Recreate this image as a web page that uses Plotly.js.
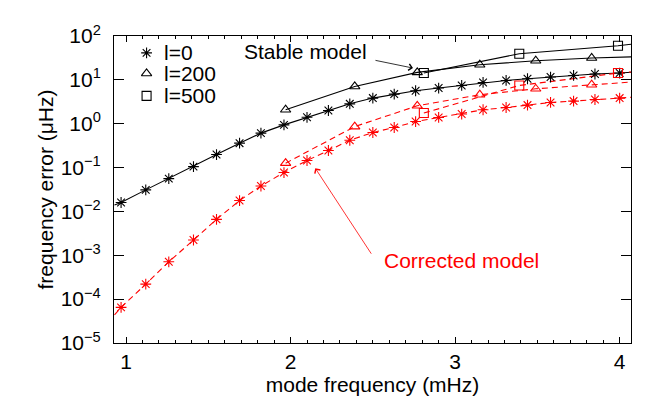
<!DOCTYPE html>
<html>
<head>
<meta charset="utf-8">
<script src="https://cdn.plot.ly/plotly-3.0.1.min.js"></script>
<style>html,body{margin:0;padding:0;background:#fff;}#chart{width:665px;height:416px;}</style>
</head>
<body>
<div id="chart"></div>
<script>
// ---- data (mode frequency in mHz, frequency error in microHz) ----
const freqL0 = [0.97, 1.12, 1.26, 1.41, 1.55, 1.69, 1.82, 1.96, 2.10, 2.23, 2.36, 2.50, 2.63, 2.76, 2.90, 3.04, 3.17, 3.31, 3.44, 3.58, 3.72, 3.85, 4.00];
const errStableL0 = [0.016, 0.031, 0.056, 0.105, 0.198, 0.36, 0.61, 0.94, 1.40, 2.0, 2.84, 3.84, 4.74, 5.64, 6.50, 7.45, 8.72, 9.69, 10.6, 11.6, 12.6, 13.6, 14.3];
const errCorrL0 = [6.5e-5, 2.2e-4, 7.1e-4, 2.23e-3, 6.6e-3, 0.0177, 0.038, 0.077, 0.145, 0.245, 0.42, 0.63, 0.82, 1.12, 1.39, 1.66, 2.08, 2.34, 2.66, 3.05, 3.28, 3.57, 3.84];

const freqL200 = [1.97, 2.39, 2.77, 3.15, 3.49, 3.83];
const errStableL200 = [2.08, 7.07, 14.8, 22.1, 27.3, 31.5];
const errCorrL200 = [0.126, 0.86, 2.56, 4.57, 6.26, 7.73];

const freqL500 = [2.81, 3.39, 3.99];
const errStableL500 = [14.3, 39.4, 60.1];
const errCorrL500 = [1.75, 7.45, 14.3];

// model curves continue to the frame edges
const curveStartFreq = 0.93;
const curveEndFreq = 4.07;
const stableL0Start = 0.014, corrL0Start = 4.4e-5;
const stableEnd = {l0: 14.9, l200: 33.5, l500: 65};
const corrEnd = {l0: 4.0, l200: 8.9, l500: 15.1};

const legendLabels = ['l=0', 'l=200', 'l=500'];
const yTickVals = [1e-5, 1e-4, 1e-3, 1e-2, 1e-1, 1, 10, 100];
const yTickText = ['10<sup>\u22125</sup>', '10<sup>\u22124</sup>', '10<sup>\u22123</sup>', '10<sup>\u22122</sup>', '10<sup>\u22121</sup>', '10<sup>0</sup>', '10<sup>1</sup>', '10<sup>2</sup>'];
const xTickVals = [1, 2, 3, 4];

// ---- styles ----
const FONT = 'Liberation Sans, Arial, Helvetica, sans-serif';
const BLACK = '#000000', RED = '#ff0000';
const symbols = {l0: 'asterisk-open', l200: 'triangle-up-open', l500: 'square-open'};
const msize = {l0: 9, l200: 9, l500: 9};

function curve(x, y, color, dashed) {
  return {x: x, y: y, mode: 'lines', type: 'scatter', showlegend: false, hoverinfo: 'skip',
    line: {color: color, width: 1.1, dash: dashed ? '6px,4px' : 'solid'}};
}
function pts(x, y, color, key) {
  return {x: x, y: y, mode: 'markers', type: 'scatter', showlegend: false,
    marker: {symbol: symbols[key], size: msize[key], color: color, line: {color: color, width: 1.1}}};
}

const traces = [
  curve([curveStartFreq].concat(freqL0, [curveEndFreq]), [stableL0Start].concat(errStableL0, [stableEnd.l0]), BLACK, false),
  curve(freqL200.concat([curveEndFreq]), errStableL200.concat([stableEnd.l200]), BLACK, false),
  curve(freqL500.concat([curveEndFreq]), errStableL500.concat([stableEnd.l500]), BLACK, false),
  curve([curveStartFreq].concat(freqL0, [curveEndFreq]), [corrL0Start].concat(errCorrL0, [corrEnd.l0]), RED, true),
  curve(freqL200.concat([curveEndFreq]), errCorrL200.concat([corrEnd.l200]), RED, true),
  curve(freqL500.concat([curveEndFreq]), errCorrL500.concat([corrEnd.l500]), RED, true),
  pts(freqL0, errStableL0, BLACK, 'l0'),
  pts(freqL200, errStableL200, BLACK, 'l200'),
  pts(freqL500, errStableL500, BLACK, 'l500'),
  pts(freqL0, errCorrL0, RED, 'l0'),
  pts(freqL200, errCorrL200, RED, 'l200'),
  pts(freqL500, errCorrL500, RED, 'l500')
];

// legend key symbols drawn on a hidden overlay (paper-like) axis
const legendX = 0.063;
const legendY = [0.945, 0.878, 0.805];
traces.push({
  x: [legendX, legendX, legendX], y: legendY, xaxis: 'x2', yaxis: 'y2', mode: 'markers', type: 'scatter',
  showlegend: false, hoverinfo: 'skip',
  marker: {symbol: [symbols.l0, symbols.l200, symbols.l500], size: 9, color: BLACK, line: {color: BLACK, width: 1.1}}
});

const annotations = legendLabels.map((t, i) => ({
  xref: 'paper', yref: 'paper', x: 0.092, y: legendY[i], xanchor: 'left', yanchor: 'middle',
  text: t, showarrow: false, font: {family: FONT, size: 21, color: BLACK}
}));

annotations.push(
  {xref: 'x', yref: 'y', x: 2.089, y: 1.648, text: 'Stable model', showarrow: false,
   xanchor: 'center', yanchor: 'middle', font: {family: FONT, size: 21, color: BLACK}},
  {xref: 'x', yref: 'y', x: 2.744, y: 1.269, text: '', showarrow: true, ax: -39, ay: -8,
   arrowhead: 4, arrowsize: 1.6, arrowwidth: 0.8, arrowcolor: BLACK},
  {xref: 'x', yref: 'y', x: 3.039, y: -3.13, text: 'Corrected model', showarrow: false,
   xanchor: 'center', yanchor: 'middle', font: {family: FONT, size: 21, color: RED}},
  {xref: 'x', yref: 'y', x: 2.150, y: -1.014, text: '', showarrow: true, ax: 57, ay: 87,
   arrowhead: 4, arrowsize: 1.6, arrowwidth: 0.8, arrowcolor: RED}
);

const layout = {
  width: 665, height: 416,
  margin: {l: 114, r: 34, t: 36, b: 73, pad: 0},
  paper_bgcolor: '#ffffff', plot_bgcolor: '#ffffff',
  font: {family: FONT, size: 21, color: BLACK},
  showlegend: false,
  xaxis: {
    range: [0.927, 4.069], tickvals: xTickVals, ticktext: xTickVals.map(String),
    ticks: 'inside', ticklen: 6, tickwidth: 1, tickcolor: BLACK,
    minor: {dtick: 0.1, tick0: 0, ticks: 'inside', ticklen: 3, tickwidth: 1, tickcolor: BLACK},
    showline: true, linecolor: BLACK, linewidth: 1, mirror: 'allticks',
    showgrid: false, zeroline: false, ticklabelstandoff: 0,
    tickfont: {family: FONT, size: 21, color: BLACK},
    title: {text: 'mode frequency (mHz)', font: {family: FONT, size: 21, color: BLACK}, standoff: 4}
  },
  yaxis: {
    type: 'log', range: [-5, 2], tickvals: yTickVals, ticktext: yTickText,
    ticks: 'inside', ticklen: 10, tickwidth: 1, tickcolor: BLACK,
    showline: true, linecolor: BLACK, linewidth: 1, mirror: 'allticks',
    showgrid: false, zeroline: false, ticklabelstandoff: 8,
    tickfont: {family: FONT, size: 21, color: BLACK},
    title: {text: 'frequency error (\u03bcHz)', font: {family: FONT, size: 21, color: BLACK}, standoff: 1}
  },
  xaxis2: {overlaying: 'x', range: [0, 1], visible: false, fixedrange: true},
  yaxis2: {overlaying: 'y', range: [0, 1], visible: false, fixedrange: true},
  annotations: annotations
};

Plotly.newPlot('chart', traces, layout, {displayModeBar: false, staticPlot: true});
</script>
</body>
</html>
